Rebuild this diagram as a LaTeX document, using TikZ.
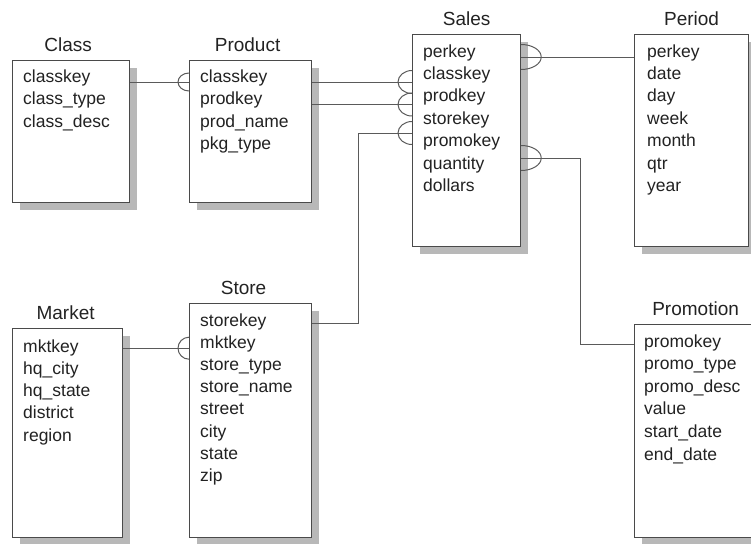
\documentclass[tikz,border=0pt]{standalone}
\usepackage{fontspec}
\setmainfont{Liberation Sans}
\usetikzlibrary{positioning,shadows}
\definecolor{boxline}{HTML}{4A4A4A}
\definecolor{linkline}{HTML}{5A5A5A}
\definecolor{shadowgray}{HTML}{B8B8B8}
\definecolor{inkgray}{HTML}{222222}
\tikzset{
  tbl/.style={draw=boxline, line width=1.2pt, fill=white, anchor=north west, inner sep=0pt,
    general shadow={fill=shadowgray, shadow xshift=7pt, shadow yshift=-7pt}},
  tblname/.style={inner sep=0pt, text=inkgray, font=\fontsize{19}{22}\selectfont},
  field/.style={inner sep=0pt, anchor=base west, text=inkgray, font=\fontsize{17.5}{20}\selectfont},
  link/.style={color=linkline, line width=1pt},
  pics/many/.style args={#1/#2/#3}{code={\draw (0,#2) arc[start angle=90, delta angle=#3, x radius=#1, y radius=#2];}}
}
\begin{document}
\begin{tikzpicture}[x=1pt,y=-1pt]
  \useasboundingbox (0,0) rectangle (751,543);
  \clip (0,0) rectangle (751,543);
  \node[tbl, minimum width=117pt, minimum height=142pt] (class) at (12,60) {};
  \node[tbl, minimum width=122pt, minimum height=142pt] (product) at (189,60) {};
  \node[tbl, minimum width=108pt, minimum height=212pt] (sales) at (412,34) {};
  \node[tbl, minimum width=114pt, minimum height=212pt] (period) at (634,34) {};
  \node[tbl, minimum width=110pt, minimum height=209pt] (market) at (12,328) {};
  \node[tbl, minimum width=122pt, minimum height=234pt] (store) at (189,303) {};
  \node[tbl, minimum width=122pt, minimum height=213pt] (promotion) at (634,324) {};
  \node[tblname, above=8pt of class, xshift=-3pt] (classname) {Class};
  \node[tblname, above=8pt of product, xshift=-3pt] (productname) {Product};
  \node[tblname, above=8pt of sales] (salesname) {Sales};
  \node[tblname, above=8pt of period] (periodname) {Period};
  \node[tblname, above=8pt of market, xshift=-2pt] (marketname) {Market};
  \node[tblname, above=8pt of store, xshift=-7pt] (storename) {Store};
  \node[tblname, above=8pt of promotion] (promotionname) {Promotion};
  \path
    (23,82) node[field] (c1) {classkey}
    (23,104.5) node[field] (c2) {class\_type}
    (23,127) node[field] (c3) {class\_desc};
  \path
    (200,82) node[field] (p1) {classkey}
    (200,104.5) node[field] (p2) {prodkey}
    (200,127) node[field] (p3) {prod\_name}
    (200,149.5) node[field] (p4) {pkg\_type};
  \path
    (423,57) node[field] (s1) {perkey}
    (423,79.4) node[field] (s2) {classkey}
    (423,101.8) node[field] (s3) {prodkey}
    (423,124.2) node[field] (s4) {storekey}
    (423,146.6) node[field] (s5) {promokey}
    (423,169) node[field] (s6) {quantity}
    (423,191.4) node[field] (s7) {dollars};
  \path
    (647,57) node[field] (e1) {perkey}
    (647,79.4) node[field] (e2) {date}
    (647,101.8) node[field] (e3) {day}
    (647,124.2) node[field] (e4) {week}
    (647,146.6) node[field] (e5) {month}
    (647,169) node[field] (e6) {qtr}
    (647,191.4) node[field] (e7) {year};
  \path
    (23,352) node[field] (m1) {mktkey}
    (23,374.3) node[field] (m2) {hq\_city}
    (23,396.6) node[field] (m3) {hq\_state}
    (23,418.9) node[field] (m4) {district}
    (23,441.2) node[field] (m5) {region};
  \path
    (200,326) node[field] (t1) {storekey}
    (200,348.2) node[field] (t2) {mktkey}
    (200,370.4) node[field] (t3) {store\_type}
    (200,392.6) node[field] (t4) {store\_name}
    (200,414.8) node[field] (t5) {street}
    (200,437) node[field] (t6) {city}
    (200,459.2) node[field] (t7) {state}
    (200,481.4) node[field] (t8) {zip};
  \path
    (644,347) node[field] (r1) {promokey}
    (644,369.6) node[field] (r2) {promo\_type}
    (644,392.2) node[field] (r3) {promo\_desc}
    (644,414.8) node[field] (r4) {value}
    (644,437.4) node[field] (r5) {start\_date}
    (644,460) node[field] (r6) {end\_date};
  \coordinate (storebus) at (358,133);
  \coordinate (promobus) at (580,158);
  \begin{scope}[link]
    \draw (c1.base -| class.east) -- (c1.base -| product.west) pic{many=11pt/9pt/180};
    \draw (p1.base -| product.east) -- (p1.base -| sales.west) pic{many=14pt/11.5pt/180};
    \draw (p2.base -| product.east) -- (p2.base -| sales.west) pic{many=14pt/11.5pt/180};
    \draw (t1.mid -| store.east) -| (storebus) -- (storebus -| sales.west) pic{many=14pt/11.5pt/180};
    \draw (s1.base -| sales.east) pic{many=20pt/12.5pt/-180} -- (s1.base -| period.west);
    \draw (promobus -| sales.east) pic{many=20pt/12.5pt/-180} -- (promobus) |- (r1.mid -| promotion.west);
    \draw (t2.base -| market.east) -- (t2.base -| store.west) pic{many=11pt/11pt/180};
  \end{scope}
\end{tikzpicture}
\end{document}
